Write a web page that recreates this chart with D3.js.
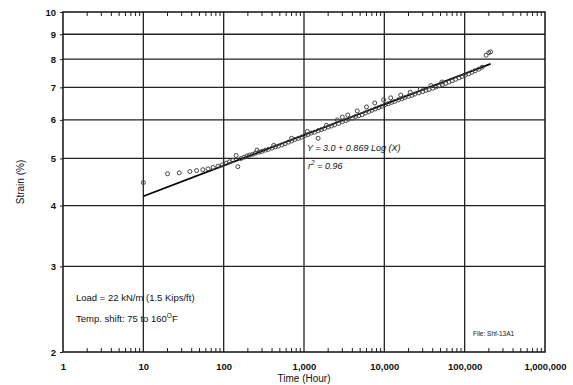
<!DOCTYPE html>
<html lang="en">
  <head>
    <meta charset="utf-8">
    <title>Strain vs Time</title>
    <style>
      body { margin: 0; background: #fff; }
      svg text { font-family: "Liberation Sans", Arial, sans-serif; fill: #111; }
      .tick-label { font-size: 9.5px; }
    </style>
  </head>
  <body>
    <div id="svg-area"></div>
    <script src="https://cdn.jsdelivr.net/npm/d3@7"></script>
    <script>
      const svg_width = 573;
      const svg_height = 385;
      const margin = {top: 12, right: 28, bottom: 33, left: 63};

      // measured points: time (hours) and strain (%)
      const hours = [10, 20, 28, 38, 46, 55, 64, 74, 85, 96, 108, 118, 130, 143, 150, 165, 180, 195, 210, 230,
        250, 275, 300, 330, 360, 400, 440, 480, 530, 580, 640, 700, 770, 850, 930, 1020, 1120, 1230, 1350, 1500,
        1500, 1650, 1800, 2000, 2200, 2400, 2700, 3000, 3000, 3300, 3600, 4000, 4400, 4800, 5300, 5800, 6400, 7000,
        7700, 8500, 9300, 10200, 11200, 12300, 13500, 15000, 16500, 18000, 20000, 22000, 24000, 27000, 30000,
        33000, 36000, 40000, 44000, 48000, 53000, 58000, 64000, 70000, 77000, 85000, 93000, 102000, 112000,
        123000, 135000, 150000, 165000, 185000, 200000, 210000,
        260, 420, 700, 1100, 1900, 2600, 3500, 4600, 6000, 7600, 9800, 12000, 16000, 21000, 28000, 38000, 52000];
      const strain = [4.46, 4.65, 4.67, 4.70, 4.72, 4.74, 4.76, 4.79, 4.82, 4.85, 4.89, 4.92, 4.95, 5.07, 4.81, 5.00, 5.03, 5.06, 5.08, 5.10,
        5.13, 5.15, 5.17, 5.20, 5.22, 5.25, 5.28, 5.30, 5.33, 5.36, 5.40, 5.43, 5.47, 5.50, 5.53, 5.57, 5.60, 5.64, 5.66, 5.50,
        5.70, 5.73, 5.76, 5.80, 5.83, 5.86, 5.90, 5.95, 6.08, 5.98, 6.02, 6.05, 6.10, 6.12, 6.15, 6.20, 6.24, 6.28,
        6.32, 6.36, 6.40, 6.45, 6.48, 6.52, 6.55, 6.60, 6.63, 6.67, 6.71, 6.74, 6.78, 6.82, 6.86,
        6.90, 6.93, 6.97, 7.01, 7.05, 7.09, 7.13, 7.18, 7.22, 7.27, 7.32, 7.37, 7.42, 7.46,
        7.52, 7.57, 7.63, 7.70, 8.15, 8.25, 8.28,
        5.20, 5.32, 5.50, 5.68, 5.85, 6.00, 6.14, 6.26, 6.38, 6.50, 6.60, 6.66, 6.75, 6.84, 6.94, 7.06, 7.18];

      // regression line end points as drawn
      const fit_hours = [10, 210000];
      const fit_strain = [4.18, 7.82];

      const x_ticks = [1, 10, 100, 1000, 10000, 100000, 1000000];
      const x_tick_labels = ['1', '10', '100', '1,000', '10,000', '100,000', '1,000,000'];
      const y_ticks = [2, 3, 4, 5, 6, 7, 8, 9, 10];
      const y_grid = [3, 4, 5, 6, 7, 8, 9];

      const svg = d3.select('#svg-area')
        .append('svg')
        .attr('width', svg_width)
        .attr('height', svg_height);

      const x_scale = d3.scaleLog()
        .domain([1, 1000000])
        .range([margin.left, svg_width - margin.right]);

      const y_scale = d3.scaleLog()
        .domain([2, 10])
        .range([svg_height - margin.bottom, margin.top]);

      const x0 = margin.left, x1 = svg_width - margin.right;
      const y0 = svg_height - margin.bottom, y1 = margin.top;

      //grid lines
      svg.append('g').selectAll('line.h')
        .data(y_grid)
        .enter().append('line')
        .attr('x1', x0).attr('x2', x1)
        .attr('y1', d => y_scale(d)).attr('y2', d => y_scale(d))
        .attr('stroke', '#222').attr('stroke-width', 1.3);

      svg.append('g').selectAll('line.v')
        .data(x_ticks.slice(1, -1))
        .enter().append('line')
        .attr('x1', d => x_scale(d)).attr('x2', d => x_scale(d))
        .attr('y1', y0).attr('y2', y1)
        .attr('stroke', '#222').attr('stroke-width', 1.3);

      //minor ticks on top and bottom, pointing inward
      const minor = [];
      x_ticks.slice(0, -1).forEach(t => {
        for (let k = 2; k < 10; k++) minor.push(t * k);
      });
      svg.append('g').selectAll('line')
        .data(minor)
        .enter().append('line')
        .attr('x1', d => x_scale(d)).attr('x2', d => x_scale(d))
        .attr('y1', y0).attr('y2', y0 - 4)
        .attr('stroke', '#222');
      svg.append('g').selectAll('line')
        .data(minor)
        .enter().append('line')
        .attr('x1', d => x_scale(d)).attr('x2', d => x_scale(d))
        .attr('y1', y1).attr('y2', y1 + 4)
        .attr('stroke', '#222');

      //frame
      svg.append('rect')
        .attr('x', x0).attr('y', y1)
        .attr('width', x1 - x0).attr('height', y0 - y1)
        .attr('fill', 'none').attr('stroke', '#111').attr('stroke-width', 1.5);

      //y axis
      const y_axis = d3.axisLeft(y_scale)
        .tickValues(y_ticks)
        .tickFormat(d3.format('d'))
        .tickSize(3)
        .tickPadding(4);
      const gy = svg.append('g')
        .attr('transform', `translate(${x0},0)`)
        .call(y_axis);
      gy.select('.domain').remove();
      gy.selectAll('text').attr('class', 'tick-label').attr('font-size', null).attr('font-family', null)
        .style('font-weight', 'bold');
      gy.selectAll('line').attr('stroke', '#222');

      //x axis
      const x_axis = d3.axisBottom(x_scale)
        .tickValues(x_ticks)
        .tickFormat((d, i) => x_tick_labels[i])
        .tickSize(0)
        .tickPadding(11);
      const gx = svg.append('g')
        .attr('transform', `translate(0,${y0})`)
        .call(x_axis);
      gx.select('.domain').remove();
      gx.selectAll('text').attr('class', 'tick-label').attr('font-size', null).attr('font-family', null)
        .style('font-weight', 'bold');

      //axis titles
      svg.append('text')
        .attr('x', (x0 + x1) / 2).attr('y', 382)
        .attr('text-anchor', 'middle')
        .style('font-size', '10px')
        .text('Time (Hour)');
      svg.append('text')
        .attr('transform', 'translate(24,182) rotate(-90)')
        .attr('text-anchor', 'middle')
        .style('font-size', '10px')
        .text('Strain (%)');

      //regression line
      const fit = fit_hours.map((h, i) => [h, fit_strain[i]]);
      svg.append('path')
        .datum(fit)
        .attr('d', d3.line().x(d => x_scale(d[0])).y(d => y_scale(d[1])))
        .attr('stroke', '#000').attr('stroke-width', 1.8).attr('fill', 'none');

      //data points
      const points = hours.map((h, i) => [h, strain[i]]);
      svg.append('g').selectAll('circle')
        .data(points)
        .enter().append('circle')
        .attr('cx', d => x_scale(d[0]))
        .attr('cy', d => y_scale(d[1]))
        .attr('r', 2)
        .attr('fill', 'none')
        .attr('stroke', '#444')
        .attr('stroke-width', 1);

      //annotations
      svg.append('text')
        .attr('x', 307).attr('y', 151)
        .style('font-size', '9px').style('font-style', 'italic')
        .text('Y = 3.0 + 0.869 Log (X)');
      const r2 = svg.append('text')
        .attr('x', 308).attr('y', 169)
        .style('font-size', '9px').style('font-style', 'italic');
      r2.append('tspan').text('r');
      r2.append('tspan').attr('dy', -4).style('font-size', '6.5px').text('2');
      r2.append('tspan').attr('dy', 4).text(' = 0.96');

      svg.append('text')
        .attr('x', 76).attr('y', 301)
        .style('font-size', '9.5px')
        .text('Load =  22 kN/m (1.5 Kips/ft)');
      const temp = svg.append('text')
        .attr('x', 76).attr('y', 322)
        .style('font-size', '9.5px');
      temp.append('tspan').text('Temp. shift: 75 to 160');
      temp.append('tspan').attr('dy', -4).style('font-size', '6.5px').text('O');
      temp.append('tspan').attr('dy', 4).text('F');

      svg.append('text')
        .attr('x', 473).attr('y', 336)
        .style('font-size', '6.5px')
        .text('File: Shf-13A1');
    </script>
  </body>
</html>
